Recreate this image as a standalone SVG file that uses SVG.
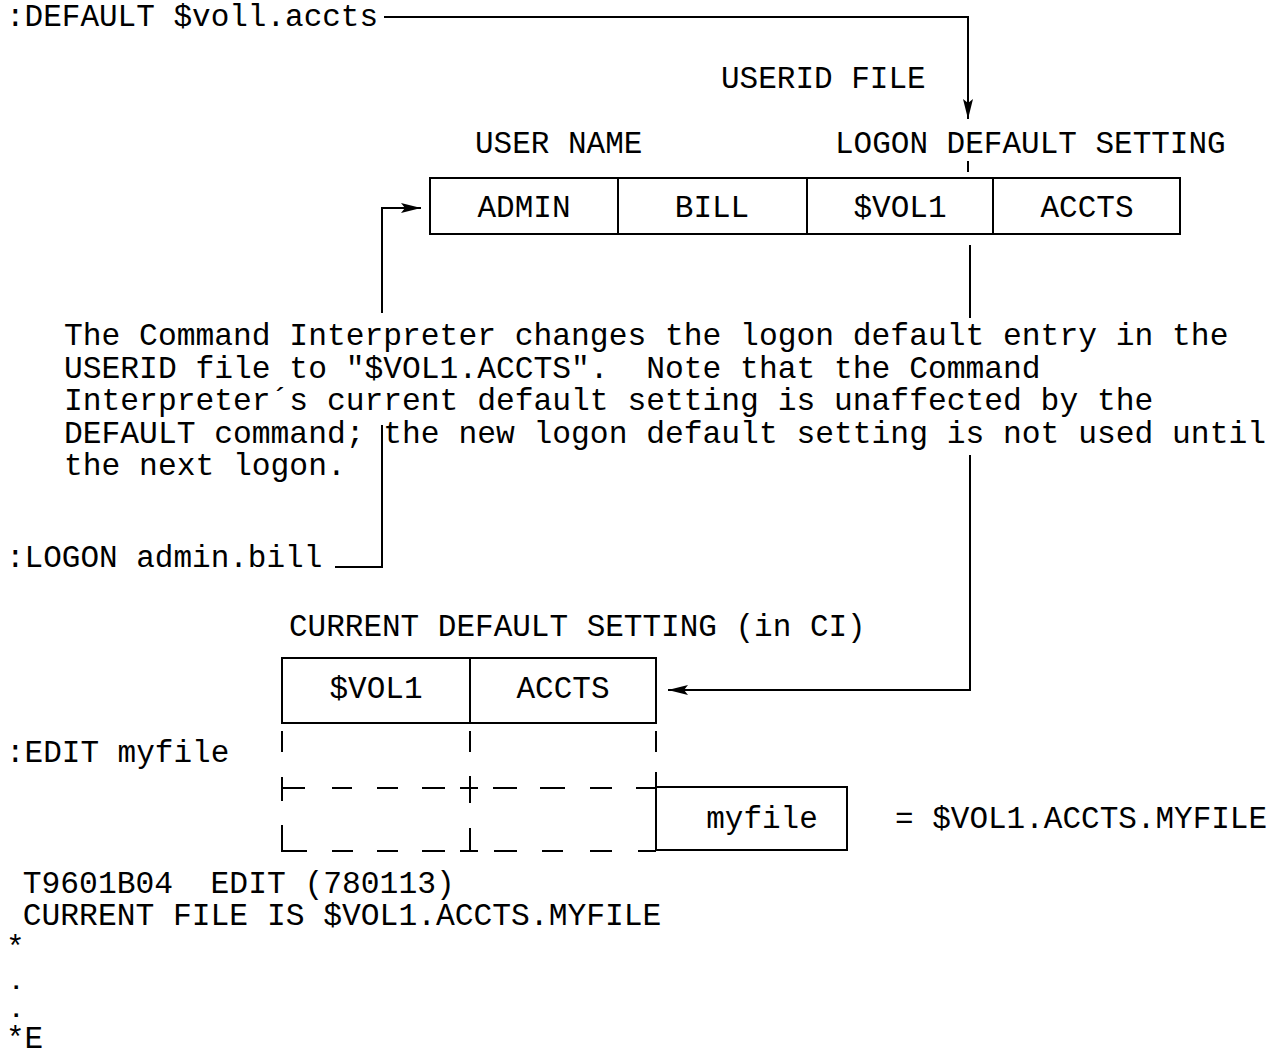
<svg xmlns="http://www.w3.org/2000/svg" width="1287" height="1053" viewBox="0 0 1287 1053">
<defs>
<style>
text{font-family:"Liberation Mono","DejaVu Sans Mono",monospace;font-size:31px;fill:#000;white-space:pre}
.p{font-size:31.3px}
.d{font-size:24px;font-weight:bold}
.c{text-anchor:middle}
.ln{stroke:#000;stroke-width:2;fill:none}
.bx{stroke:#000;stroke-width:2;fill:#fff}
</style>
<marker id="ah" viewBox="0 0 20 10" refX="20" refY="5" markerWidth="20" markerHeight="10" markerUnits="userSpaceOnUse" orient="auto">
<path d="M0,0 L20,5 L0,10 L4,5 Z" fill="#000"/>
</marker>
</defs>
<rect width="1287" height="1053" fill="#fff"/>

<g id="cmd-default"><text x="6" y="26">:DEFAULT $voll.accts</text></g>
<g id="lbl-userid"><text x="721" y="88">USERID FILE</text></g>
<g id="lbl-username"><text x="475" y="153">USER NAME</text></g>
<g id="lbl-logondefault"><text x="835" y="153">LOGON DEFAULT SETTING</text></g>

<g id="userid-file">
<rect class="bx" x="430" y="178" width="750" height="56"/>
<line class="ln" x1="618" y1="178" x2="618" y2="234"/>
<line class="ln" x1="807" y1="178" x2="807" y2="234"/>
<line class="ln" x1="993" y1="178" x2="993" y2="234"/>
<text class="c" x="524" y="217">ADMIN</text>
<text class="c" x="712" y="217">BILL</text>
<text class="c" x="900" y="217">$VOL1</text>
<text class="c" x="1087" y="217">ACCTS</text>
</g>

<g id="note">
<text class="p" x="64" y="345">The Command Interpreter changes the logon default entry in the</text>
<text class="p" x="64" y="378" xml:space="preserve">USERID file to "$VOL1.ACCTS".  Note that the Command</text>
<text class="p" x="64" y="410">Interpreter´s current default setting is unaffected by the</text>
<text class="p" x="64" y="443">DEFAULT command; the new logon default setting is not used until</text>
<text class="p" x="64" y="475">the next logon.</text>
</g>

<g id="cmd-logon"><text x="6" y="567">:LOGON admin.bill</text></g>
<g id="lbl-current"><text x="289" y="636">CURRENT DEFAULT SETTING (in CI)</text></g>

<g id="current-default">
<rect class="bx" x="282" y="658" width="374" height="65"/>
<line class="ln" x1="470" y1="658" x2="470" y2="723"/>
<text class="c" x="376" y="698">$VOL1</text>
<text class="c" x="563" y="698">ACCTS</text>
</g>

<g id="cmd-edit"><text x="6" y="762">:EDIT myfile</text></g>

<g id="expansion">
<path class="ln" d="M282,731 V752 M470,731 V752 M656,731 V752"/>
<path class="ln" d="M282,777 V801 M470,776 V803 M282,788 H305 M332,788 H352 M377,788 H398 M422,788 H445 M460,788 H478 M493,788 H517 M540,788 H565 M590,788 H612 M636,788 H656 M656,772 V787"/>
<path class="ln" d="M282,825 V851 H307 M332,851 H353 M377,851 H398 M422,851 H445 M460,851 H478 M470,828 V851 M494,851 H517 M542,851 H563 M590,851 H612 M638,851 H656"/>
</g>

<g id="myfile-box">
<rect class="bx" x="656" y="787" width="191" height="63"/>
<text class="c" x="762" y="828">myfile</text>
</g>
<g id="equals"><text x="895" y="828">= $VOL1.ACCTS.MYFILE</text></g>

<g id="output">
<text class="p" x="4" y="893" xml:space="preserve"> T9601B04  EDIT (780113)</text>
<text class="p" x="4" y="925" xml:space="preserve"> CURRENT FILE IS $VOL1.ACCTS.MYFILE</text>
<text x="6" y="957">*</text>
<text class="d" x="9" y="989">.</text>
<text class="d" x="9" y="1017">.</text>
<text x="6" y="1048">*E</text>
</g>

<g id="connectors">
<path class="ln" d="M384,17 H968 V119" marker-end="url(#ah)"/>
<line class="ln" x1="968" y1="161" x2="968" y2="172"/>
<path class="ln" d="M382,313 V208 H421" marker-end="url(#ah)"/>
<path class="ln" d="M382,425 V567 H335"/>
<line class="ln" x1="970" y1="245" x2="970" y2="318"/>
<path class="ln" d="M970,455 V690 H668" marker-end="url(#ah)"/>
</g>
</svg>
